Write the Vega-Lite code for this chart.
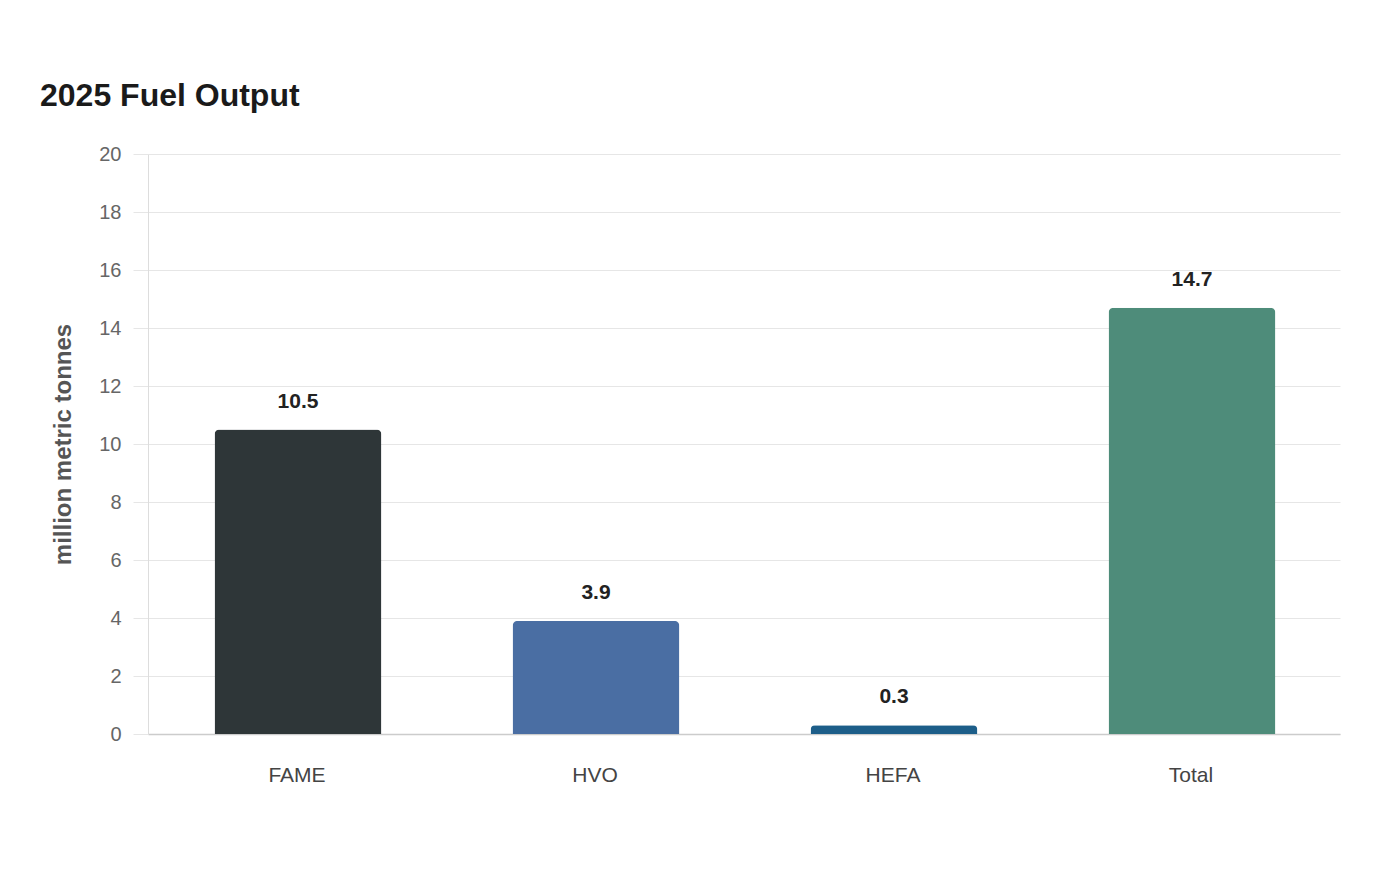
{
  "$schema": "https://vega.github.io/schema/vega-lite/v6.json",
  "autosize": "none",
  "width": 1192,
  "height": 580,
  "padding": {"left": 148, "top": 154, "right": 60, "bottom": 146},
  "background": "white",
  "config": {"font": "Liberation Sans", "view": {"stroke": null}},
  "title": {"text": "2025 Fuel Output", "anchor": "start", "frame": "group", "dx": -108, "fontSize": 32, "fontWeight": "bold", "color": "#1a1a1a", "offset": 31},
  "data": {"values": [
    {"fuel": "FAME", "value": 10.5, "label": "10.5"},
    {"fuel": "HVO", "value": 3.9, "label": "3.9"},
    {"fuel": "HEFA", "value": 0.3, "label": "0.3"},
    {"fuel": "Total", "value": 14.7, "label": "14.7"}
  ]},
  "encoding": {
    "x": {"field": "fuel", "type": "nominal", "sort": null, "scale": {"paddingInner": 0.44, "paddingOuter": 0.22},
      "axis": {"title": null, "labelAngle": 0, "labelFontSize": 21, "labelColor": "#444", "labelPadding": 30, "ticks": false, "domainColor": "#cccccc", "domainWidth": 1.5}},
    "y": {"field": "value", "type": "quantitative", "scale": {"domain": [0, 20]},
      "axis": {"title": "million metric tonnes", "titleFontSize": 24, "titleFontWeight": "bold", "titleColor": "#555", "titleX": -85, "titleY": 290, "titleAngle": -90, "titleAlign": "center", "titleBaseline": "middle",
        "values": [0, 2, 4, 6, 8, 10, 12, 14, 16, 18, 20], "labelFontSize": 20, "labelColor": "#666", "labelPadding": 12, "tickSize": 15, "tickColor": "#e6e6e6", "gridColor": "#e6e6e6", "domainColor": "#dddddd"}}
  },
  "layer": [
    {"mark": {"type": "bar", "cornerRadiusTopLeft": 5, "cornerRadiusTopRight": 5, "xOffset": 1},
     "encoding": {"color": {"field": "fuel", "type": "nominal", "legend": null,
        "scale": {"domain": ["FAME", "HVO", "HEFA", "Total"], "range": ["#2e3638", "#4a6ea3", "#1d5e89", "#4e8c7a"]}}}},
    {"mark": {"type": "text", "fontSize": 21, "fontWeight": "bold", "color": "#222", "baseline": "alphabetic", "dy": -22, "dx": 1},
     "encoding": {"text": {"field": "label"}}}
  ]
}
